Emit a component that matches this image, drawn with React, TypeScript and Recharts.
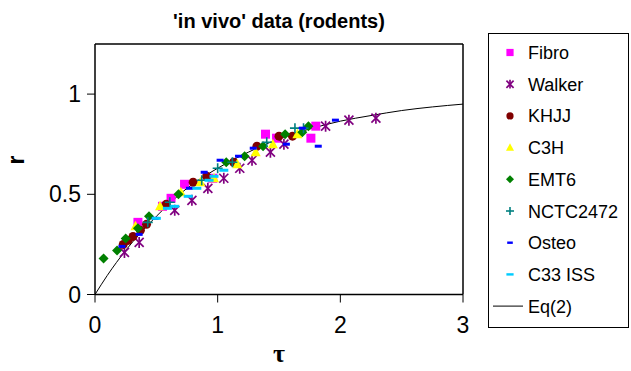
import React from "react";
import {
  ComposedChart,
  Scatter,
  Line,
  XAxis,
  YAxis,
  ReferenceLine,
} from "recharts";

const FONT = "Arial, 'Liberation Sans', sans-serif";
const SERIF = "'Times New Roman', 'Liberation Serif', serif";

const xTicks = [0, 1, 2, 3];
const yTicks = [0, 0.5, 1];

const fibro = [[0.35, 0.36], [0.55, 0.44], [0.62, 0.48], [0.73, 0.55], [0.96, 0.58], [1.39, 0.8], [1.48, 0.78], [1.76, 0.78], [1.8, 0.84]];
const walker = [[0.24, 0.21], [0.36, 0.26], [0.65, 0.42], [0.79, 0.47], [0.92, 0.53], [1.05, 0.58], [1.18, 0.63], [1.28, 0.67], [1.43, 0.71], [1.54, 0.75], [1.88, 0.84], [2.07, 0.87], [2.29, 0.88]];
const khjj = [[0.23, 0.25], [0.27, 0.27], [0.31, 0.29], [0.37, 0.32], [0.42, 0.35], [0.58, 0.45], [0.8, 0.56], [0.91, 0.59], [1.13, 0.66], [1.32, 0.74], [1.5, 0.79], [1.61, 0.79]];
const c3h = [[0.33, 0.34], [0.53, 0.44], [0.7, 0.51], [0.86, 0.56], [0.97, 0.58], [1.16, 0.65], [1.31, 0.71], [1.45, 0.75], [1.65, 0.8]];
const emt6 = [[0.07, 0.18], [0.18, 0.22], [0.25, 0.28], [0.35, 0.33], [0.44, 0.39], [0.68, 0.5], [1.07, 0.66], [1.22, 0.69], [1.37, 0.74], [1.55, 0.8], [1.69, 0.81], [1.74, 0.84]];
const nctc = [[0.43, 0.36], [0.61, 0.46], [0.87, 0.57], [1.0, 0.63], [1.12, 0.66], [1.4, 0.76], [1.63, 0.83], [1.7, 0.83]];
const osteo = [[0.22, 0.24], [0.36, 0.3], [0.49, 0.38], [0.77, 0.53], [0.89, 0.61], [1.02, 0.67], [1.17, 0.69], [1.29, 0.73], [1.56, 0.75], [1.69, 0.83], [1.82, 0.74], [1.96, 0.87]];
const c33 = [[0.5, 0.38], [0.59, 0.43], [0.65, 0.44], [0.76, 0.49], [0.83, 0.53], [0.93, 0.57], [0.97, 0.59], [1.05, 0.62]];

const eqTau = [0, 0.1, 0.25, 0.5, 0.75, 1, 1.25, 1.5, 1.75, 2, 2.25, 2.5, 2.75, 3];
const eqR = [0, 0.095, 0.22, 0.39, 0.53, 0.63, 0.71, 0.777, 0.826, 0.865, 0.893, 0.918, 0.936, 0.95];

const toPts = (arr: number[][]) => arr.map(([x, y]) => ({ x, y }));
const eqData = eqTau.map((x, i) => ({ x, y: eqR[i] }));

type MarkerKind = "square" | "asterisk" | "circle" | "triangle" | "diamond" | "plus" | "dashS" | "dashL";

function drawMarker(kind: MarkerKind, cx: number, cy: number, color: string, s = 1) {
  switch (kind) {
    case "square":
      return <rect x={cx - 4.5 * s} y={cy - 4.5 * s} width={9 * s} height={9 * s} fill={color} />;
    case "asterisk":
      return (
        <g stroke={color} strokeWidth={1.7}>
          <line x1={cx - 4.5 * s} y1={cy - 4.5 * s} x2={cx + 4.5 * s} y2={cy + 4.5 * s} />
          <line x1={cx - 4.5 * s} y1={cy + 4.5 * s} x2={cx + 4.5 * s} y2={cy - 4.5 * s} />
          <line x1={cx} y1={cy - 5.5 * s} x2={cx} y2={cy + 5.5 * s} />
        </g>
      );
    case "circle":
      return <circle cx={cx} cy={cy} r={4.5 * s} fill={color} />;
    case "triangle":
      return (
        <polygon
          points={`${cx},${cy - 5.5 * s} ${cx + 5 * s},${cy + 4 * s} ${cx - 5 * s},${cy + 4 * s}`}
          fill={color}
        />
      );
    case "diamond":
      return (
        <polygon
          points={`${cx},${cy - 5 * s} ${cx + 5 * s},${cy} ${cx},${cy + 5 * s} ${cx - 5 * s},${cy}`}
          fill={color}
        />
      );
    case "plus":
      return (
        <g stroke={color} strokeWidth={1.6}>
          <line x1={cx - 5 * s} y1={cy} x2={cx + 5 * s} y2={cy} />
          <line x1={cx} y1={cy - 5 * s} x2={cx} y2={cy + 5 * s} />
        </g>
      );
    case "dashS":
      return <rect x={cx - 3.5 * s} y={cy - 1.5 * s} width={7 * s} height={3 * s} fill={color} />;
    case "dashL":
      return <rect x={cx - 4.5 * s} y={cy - 1.5 * s} width={9 * s} height={3 * s} fill={color} />;
  }
  return null;
}

const seriesDefs: { name: string; data: number[][]; color: string; kind: MarkerKind }[] = [
  { name: "Fibro", data: fibro, color: "#FF00FF", kind: "square" },
  { name: "Walker", data: walker, color: "#800080", kind: "asterisk" },
  { name: "KHJJ", data: khjj, color: "#800000", kind: "circle" },
  { name: "C3H", data: c3h, color: "#FFFF00", kind: "triangle" },
  { name: "EMT6", data: emt6, color: "#008000", kind: "diamond" },
  { name: "NCTC2472", data: nctc, color: "#008080", kind: "plus" },
  { name: "Osteo", data: osteo, color: "#0000FF", kind: "dashS" },
  { name: "C33 ISS", data: c33, color: "#00CCFF", kind: "dashL" },
];

const LegendBox = () => (
  <div
    style={{
      position: "absolute",
      left: 488,
      top: 33,
      width: 141,
      height: 295,
      border: "1px solid #000",
      boxSizing: "border-box",
      background: "#fff",
    }}
  >
    <svg width={140} height={295} style={{ position: "absolute", left: 0, top: 0 }}>
      {seriesDefs.map((d, i) => {
        const cy = 18.5 + i * 31.7;
        return (
          <g key={d.name}>
            {drawMarker(d.kind, 21, cy, d.color, 0.8)}
            <text x={39} y={cy + 6.5} fontSize={18} fontFamily={FONT} fill="#000">
              {d.name}
            </text>
          </g>
        );
      })}
      <line x1={4} x2={34} y1={18.5 + 8 * 31.7} y2={18.5 + 8 * 31.7} stroke="#000" strokeWidth={1} />
      <text x={39} y={18.5 + 8 * 31.7 + 6.5} fontSize={18} fontFamily={FONT} fill="#000">
        Eq(2)
      </text>
    </svg>
  </div>
);

export default function App() {
  return (
    <div style={{ position: "absolute", left: 0, top: 0, width: 631, height: 371, background: "#fff" }}>
      <ComposedChart
        width={631}
        height={371}
        margin={{ top: 44, right: 168, bottom: 36.5, left: 35 }}
      >
        <text x={279} y={28} textAnchor="middle" fontFamily={FONT} fontWeight="bold" fontSize={20} fill="#000">
          'in vivo' data (rodents)
        </text>
        <text
          x={24}
          y={160}
          textAnchor="middle"
          fontFamily={FONT}
          fontWeight="bold"
          fontSize={23}
          fill="#000"
          transform="rotate(-90 24 160)"
        >
          r
        </text>
        <text x={279} y={362} textAnchor="middle" fontFamily={SERIF} fontWeight="bold" fontSize={26} fill="#000">
          τ
        </text>
        <XAxis
          type="number"
          dataKey="x"
          domain={[0, 3]}
          ticks={xTicks}
          allowDataOverflow
          height={40}
          tickSize={8}
          tickMargin={14}
          axisLine={{ stroke: "#000", strokeWidth: 1.5 }}
          tickLine={{ stroke: "#000", strokeWidth: 1 }}
          tick={{ fill: "#000", fontSize: 23, fontFamily: FONT }}
        />
        <YAxis
          type="number"
          dataKey="y"
          domain={[0, 1.25]}
          ticks={yTicks}
          allowDataOverflow
          width={60}
          tickSize={8}
          tickMargin={6}
          axisLine={{ stroke: "#000", strokeWidth: 1.5 }}
          tickLine={{ stroke: "#000", strokeWidth: 1 }}
          tick={{ fill: "#000", fontSize: 23, fontFamily: FONT }}
          tickFormatter={(v: number) => String(v)}
        />
        <ReferenceLine y={1.25} stroke="#000" strokeWidth={1.5} />
        <ReferenceLine x={3} stroke="#000" strokeWidth={1.5} />
        <Line
          data={eqData}
          dataKey="y"
          type="monotone"
          stroke="#000"
          strokeWidth={1}
          dot={false}
          activeDot={false}
          isAnimationActive={false}
          legendType="none"
        />
        {seriesDefs.map((d) => (
          <Scatter
            key={d.name}
            name={d.name}
            data={toPts(d.data)}
            dataKey="y"
            isAnimationActive={false}
            shape={(p: any) => drawMarker(d.kind, p.cx, p.cy, d.color)}
          />
        ))}
      </ComposedChart>
      <LegendBox />
    </div>
  );
}
